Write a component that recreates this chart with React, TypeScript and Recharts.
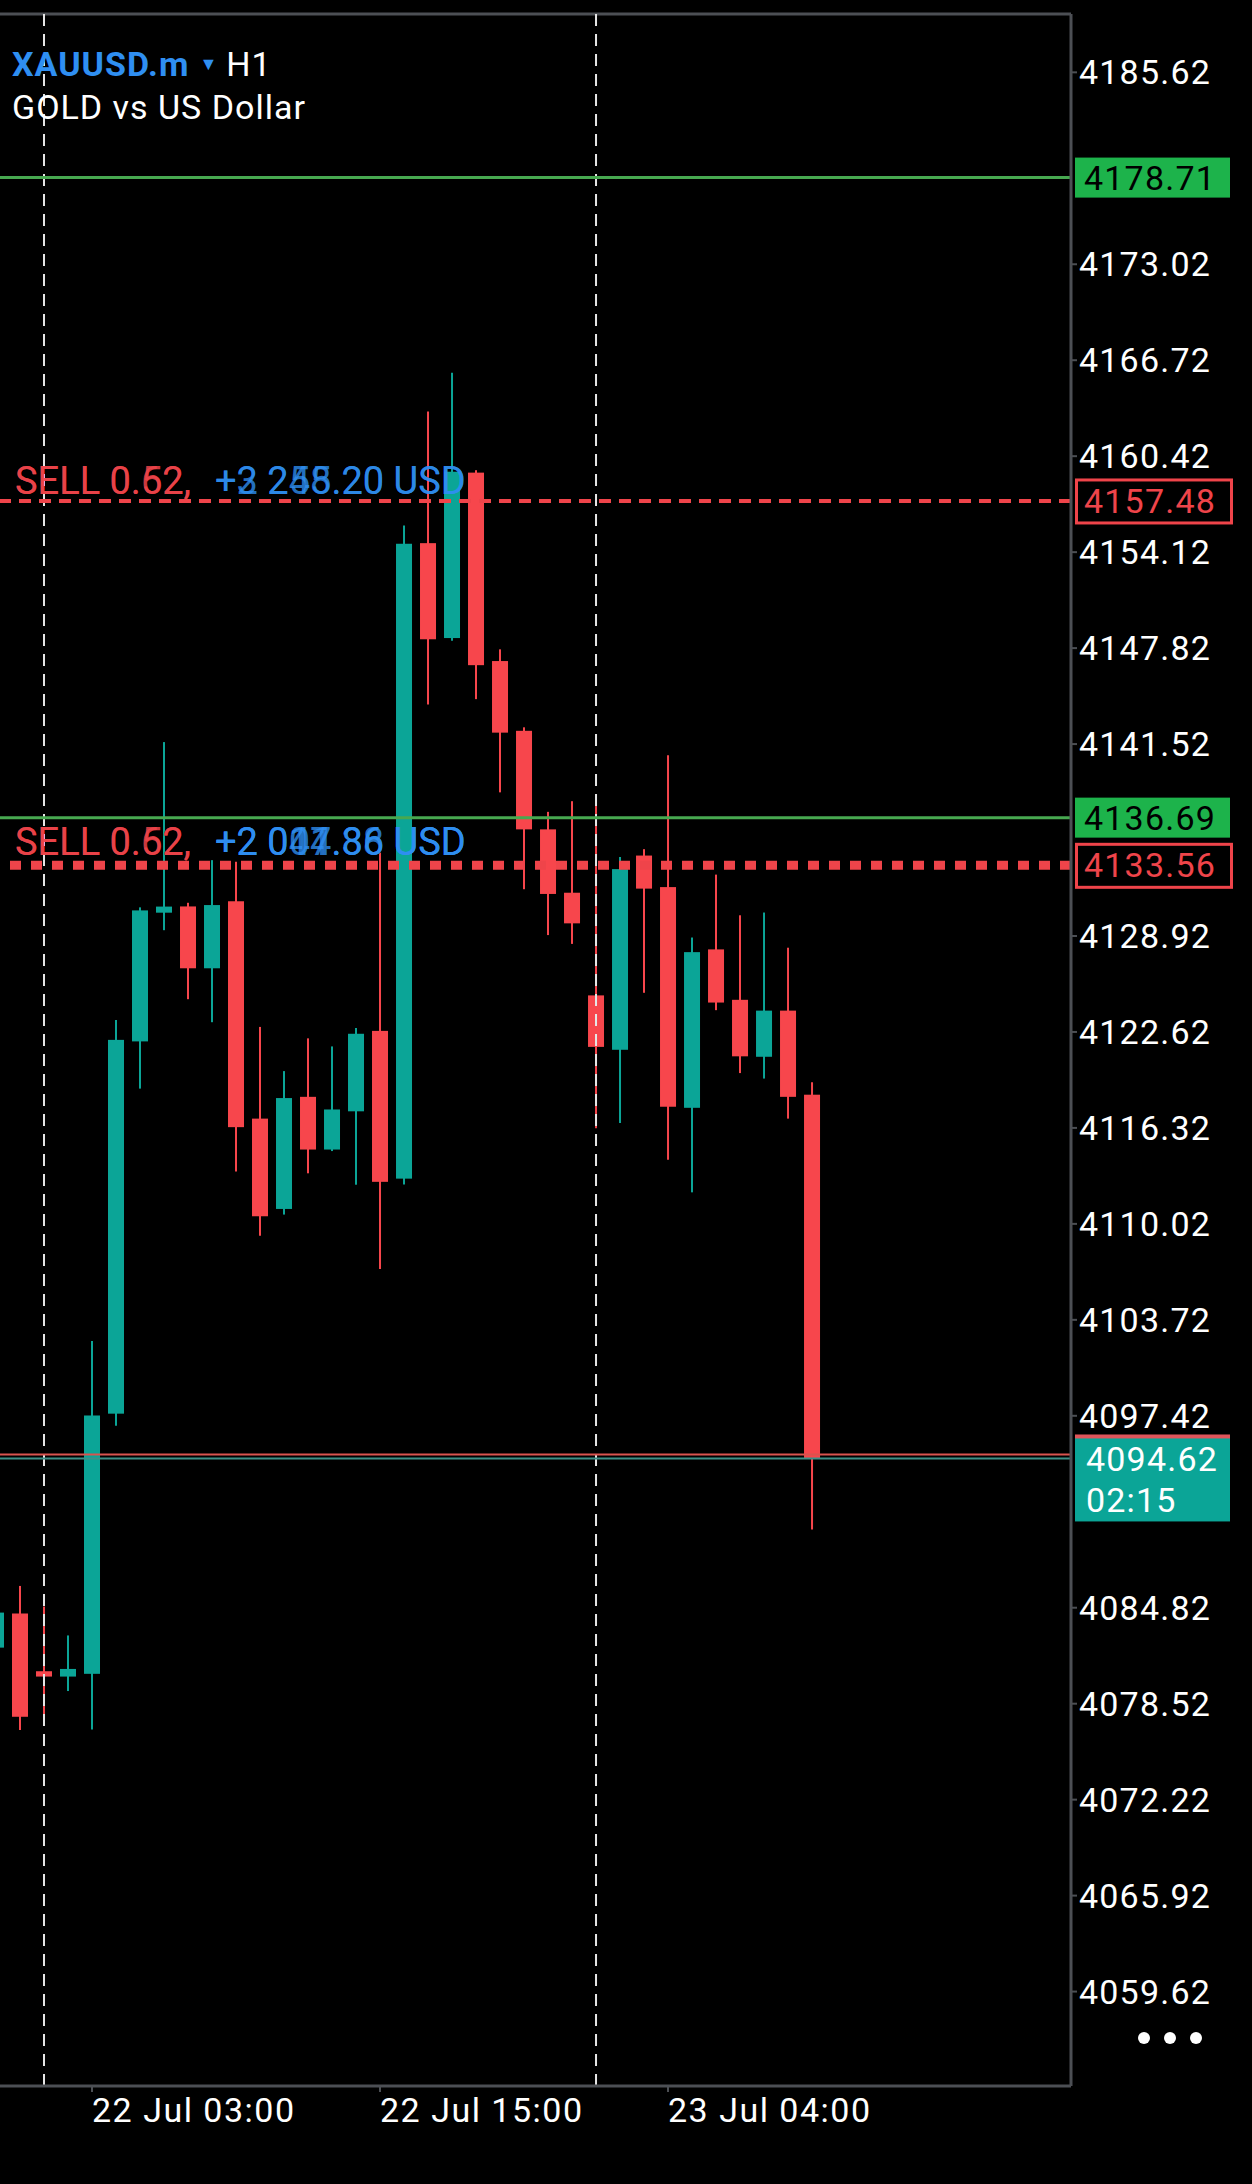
import React from "react";
import { ComposedChart, Bar, XAxis, YAxis, ReferenceLine } from "recharts";

// hourly candles, XAUUSD.m H1 (index 0 is the partly hidden bar on the left edge)
const INDEX = [0, 1, 2, 3, 4, 5, 6, 7, 8, 9, 10, 11, 12, 13, 14, 15, 16, 17, 18, 19, 20, 21, 22, 23, 24, 25, 26, 27, 28, 29, 30, 31, 32, 33, 34];
const OPEN = [4082.2, 4084.44, 4080.65, 4080.3, 4080.48, 4097.56, 4122.0, 4130.45, 4130.86, 4126.8, 4131.2, 4116.93, 4111.0, 4118.36, 4114.9, 4117.41, 4122.69, 4112.99, 4154.71, 4148.48, 4159.34, 4146.97, 4142.39, 4135.92, 4131.76, 4125.02, 4121.45, 4134.2, 4132.13, 4117.64, 4128.04, 4124.73, 4120.99, 4124.02, 4118.5];
const HIGH = [4084.6, 4086.25, 4084.9, 4083.0, 4102.33, 4123.4, 4130.8, 4141.65, 4131.1, 4133.9, 4133.8, 4122.95, 4120.05, 4122.2, 4121.67, 4122.88, 4134.4, 4155.87, 4163.35, 4165.89, 4159.5, 4147.74, 4142.62, 4137.07, 4137.77, 4137.48, 4134.1, 4134.62, 4140.78, 4128.82, 4132.95, 4130.28, 4130.46, 4128.15, 4119.32];
const LOW = [4082.0, 4076.79, 4077.1, 4079.35, 4076.83, 4096.76, 4118.9, 4129.3, 4124.77, 4123.26, 4113.46, 4109.24, 4110.63, 4113.34, 4114.8, 4112.59, 4107.05, 4112.6, 4144.12, 4148.3, 4144.47, 4138.35, 4131.99, 4128.98, 4128.4, 4116.3, 4116.65, 4125.19, 4114.23, 4112.09, 4124.05, 4119.92, 4119.56, 4116.93, 4089.95];
const CLOSE = [4084.5, 4077.66, 4080.3, 4080.8, 4097.44, 4122.1, 4130.6, 4130.85, 4126.8, 4130.95, 4116.37, 4110.52, 4118.28, 4114.9, 4117.53, 4122.5, 4112.78, 4154.67, 4148.4, 4159.4, 4146.7, 4142.27, 4135.92, 4131.68, 4129.75, 4121.64, 4133.31, 4132.03, 4117.71, 4127.86, 4124.55, 4121.02, 4124.02, 4118.36, 4094.62];

// price scale labels that are not hidden behind a price tag
const Y_TICKS = [4059.62, 4065.92, 4072.22, 4078.52, 4084.82, 4097.42, 4103.72, 4110.02, 4116.32, 4122.62, 4128.92, 4141.52, 4147.82, 4154.12, 4160.42, 4166.72, 4173.02, 4185.62];
const X_TICKS = [4, 16, 28];
const X_LABELS = ["22 Jul 03:00", "22 Jul 15:00", "23 Jul 04:00"];
const DAY_BREAKS = [2, 25];

const TP_LEVELS = [4178.71, 4136.69];
const SELL_TOP = 4157.48;
const SELL_LOW = 4133.56;
const BID = 4094.62;
const ASK = 4094.88;
const BAR_TIMER = "02:15";

const Y_MIN = 4053.42;
const Y_MAX = 4189.45;
const X_MIN = 0.1667;
const X_MAX = 44.79;

const BULL = "#0ba597";
const BEAR = "#f7464c";
const GRID = "#4c4f54";
const GREEN_LINE = "#47a850";
const GREEN_TAG = "#1db34b";
const RED = "#ef444a";
const BLUE = "#2f8ff2";
const FONT = "Roboto, 'Noto Sans', sans-serif";

const candles = INDEX.map((i, k) => ({
  i,
  open: OPEN[k],
  high: HIGH[k],
  low: LOW[k],
  close: CLOSE[k],
  range: [LOW[k], HIGH[k]],
}));

const Candle = (props: any) => {
  const { x, y, width, height, payload } = props;
  if (x == null || y == null) return null;
  const { open, close, high, low } = payload;
  const top = Math.min(y, y + height);
  const bottom = Math.max(y, y + height);
  const span = high - low || 1;
  const py = (p: number) => top + ((high - p) / span) * (bottom - top);
  const color = close >= open ? BULL : BEAR;
  const bTop = py(Math.max(open, close));
  let bBot = py(Math.min(open, close));
  if (bBot - bTop < 4) bBot = bTop + 4;
  const cx = x + width / 2;
  return (
    <g>
      <line x1={cx} x2={cx} y1={top} y2={bottom} stroke={color} strokeWidth={2} />
      <rect x={x} y={bTop} width={width} height={bBot - bTop} fill={color} />
    </g>
  );
};

const PriceTick = ({ x, y, payload }: any) => (
  <text x={x} y={y} dy="0.355em" textAnchor="start" fill="#fff" fontSize={34} letterSpacing={1.2} fontFamily={FONT}>
    {Number(payload.value).toFixed(2)}
  </text>
);

const TimeTick = ({ x, y, payload }: any) => (
  <text x={x} y={y} dy="0.71em" textAnchor="start" fill="#fff" fontSize={34} letterSpacing={1.5} fontFamily={FONT}>
    {X_LABELS[X_TICKS.indexOf(payload.value)]}
  </text>
);

const PriceTag = ({ viewBox, kind, value }: any) => {
  if (!viewBox) return null;
  const x = viewBox.x + viewBox.width + 4;
  const y = viewBox.y;
  const txt = value.toFixed(2);
  if (kind === "green") {
    return (
      <g>
        <rect x={x} y={y - 20} width={155} height={40} fill={GREEN_TAG} />
        <text x={x + 9} y={y} dy="0.355em" fill="#000" fontSize={34} letterSpacing={1.2} fontFamily={FONT}>{txt}</text>
      </g>
    );
  }
  if (kind === "red") {
    return (
      <g>
        <rect x={x + 1.5} y={y - 21} width={155} height={43} fill="#000" stroke={RED} strokeWidth={3} />
        <text x={x + 9} y={y} dy="0.355em" fill={RED} fontSize={34} letterSpacing={1.2} fontFamily={FONT}>{txt}</text>
      </g>
    );
  }
  if (kind === "ask") {
    return <rect x={x} y={y - 20} width={155} height={40} fill="#e0555a" />;
  }
  return (
    <g>
      <rect x={x} y={y - 20} width={155} height={83} fill={BULL} />
      <text x={x + 11} y={y} dy="0.355em" fill="#fff" fontSize={34} letterSpacing={1.2} fontFamily={FONT}>{txt}</text>
      <text x={x + 11} y={y + 41} dy="0.355em" fill="#fff" fontSize={34} letterSpacing={1.2} fontFamily={FONT}>{BAR_TIMER}</text>
    </g>
  );
};

const PositionLabel = ({ viewBox, sells, profits, lift }: any) => {
  if (!viewBox) return null;
  const base = viewBox.y - lift;
  return (
    <g fontFamily={FONT} fontSize={38}>
      {sells.map((s: string, k: number) => (
        <text key={"s" + k} x={viewBox.x + 15} y={base} fill={RED} fillOpacity={0.85}>{s}</text>
      ))}
      {profits.map((p: string, k: number) => (
        <text key={"p" + k} x={viewBox.x + 215} y={base} fill={BLUE} fillOpacity={0.8}>{p}</text>
      ))}
    </g>
  );
};

export default function App() {
  return (
    <div style={{ position: "absolute", left: 0, top: 0, width: 1252, height: 2184, background: "#000", overflow: "hidden", fontFamily: FONT }}>
      <ComposedChart width={1252} height={2184} data={candles} margin={{ top: 14, right: 0, bottom: 0, left: 0 }}>
        <XAxis
          type="number"
          dataKey="i"
          domain={[X_MIN, X_MAX]}
          allowDataOverflow
          ticks={X_TICKS}
          interval={0}
          height={98}
          axisLine={{ stroke: GRID, strokeWidth: 3 }}
          tickLine={{ stroke: GRID, strokeWidth: 2 }}
          tickSize={6}
          tickMargin={6}
          tick={<TimeTick />}
        />
        <YAxis
          orientation="right"
          domain={[Y_MIN, Y_MAX]}
          allowDataOverflow
          ticks={Y_TICKS}
          interval={0}
          width={181}
          axisLine={{ stroke: GRID, strokeWidth: 3 }}
          tickLine={{ stroke: GRID, strokeWidth: 2 }}
          tickSize={6}
          tickMargin={2}
          tick={<PriceTick />}
        />
        <ReferenceLine y={Y_MAX} stroke={GRID} strokeWidth={3} />
        {DAY_BREAKS.map((d) => (
          <ReferenceLine key={d} x={d} stroke="#e6e6e6" strokeWidth={2} strokeDasharray="12 8" />
        ))}
        <ReferenceLine
          y={SELL_TOP}
          stroke={RED}
          strokeWidth={4}
          strokeDasharray="12 8"
          label={<PositionLabel lift={7} sells={["SELL 0.52,", "SELL 0.62,"]} profits={["+2 245.20 USD", "+3 258.20 USD"]} />}
        />
        <ReferenceLine
          y={SELL_LOW}
          stroke={RED}
          strokeWidth={9}
          strokeDasharray="11 10"
          label={<PositionLabel lift={10} sells={["SELL 0.62,", "SELL 0.52,"]} profits={["+2 001.86 USD", "+2 014.36 USD", "+2 047.88 USD"]} />}
        />
        <Bar dataKey="range" barSize={16} shape={<Candle />} isAnimationActive={false} />
        {TP_LEVELS.map((v) => (
          <ReferenceLine key={v} y={v} stroke={GREEN_LINE} strokeWidth={3} label={<PriceTag kind="green" value={v} />} />
        ))}
        <ReferenceLine y={SELL_TOP} stroke="none" label={<PriceTag kind="red" value={SELL_TOP} />} />
        <ReferenceLine y={SELL_LOW} stroke="none" label={<PriceTag kind="red" value={SELL_LOW} />} />
        <ReferenceLine y={ASK} stroke="#d9534f" strokeWidth={2} label={<PriceTag kind="ask" value={ASK} />} />
        <ReferenceLine y={BID} stroke="#3d8f87" strokeWidth={2} label={<PriceTag kind="bid" value={BID} />} />
      </ComposedChart>

      <div style={{ position: "absolute", left: 12, top: 44, fontSize: 34, lineHeight: "40px", letterSpacing: 1, whiteSpace: "nowrap" }}>
        <span style={{ color: BLUE, fontWeight: 700 }}>XAUUSD.m</span>
        <span style={{ color: BLUE, fontSize: 18, margin: "0 8px 0 10px", position: "relative", top: -6 }}>▼</span>
        <span style={{ color: "#fff" }}>H1</span>
      </div>
      <div style={{ position: "absolute", left: 12, top: 87, fontSize: 34, lineHeight: "40px", letterSpacing: 1, color: "#fff", whiteSpace: "nowrap" }}>
        GOLD vs US Dollar
      </div>
      <div style={{ position: "absolute", left: 1138, top: 2032, display: "flex", gap: 14 }}>
        {[0, 1, 2].map((k) => (
          <div key={k} style={{ width: 12, height: 12, borderRadius: 6, background: "#fff" }} />
        ))}
      </div>
    </div>
  );
}
